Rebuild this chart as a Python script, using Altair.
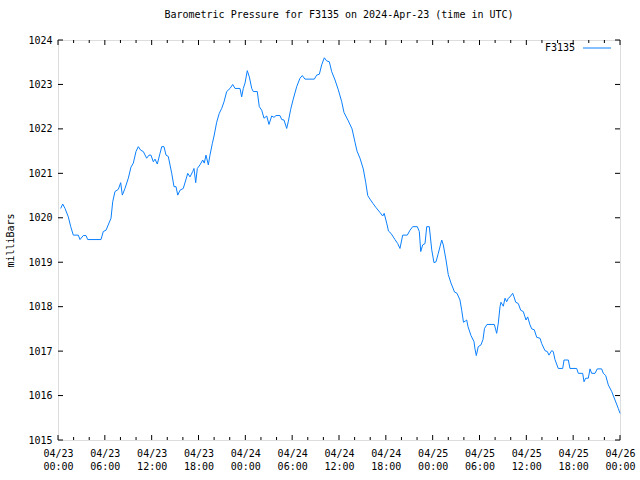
import json
import altair as alt
import pandas as pd

# ---- data (hours since 2024-04-23 00:00 UTC, pressure in mbar) ----
hours = [0.35, 0.60, 0.90, 1.32, 1.63, 1.96, 2.60, 2.82, 3.24, 3.59, 3.80, 5.51, 5.80, 6.15,
         6.79, 7.01, 7.30, 7.73, 8.03, 8.24, 8.58, 9.01, 9.35, 9.65, 9.99, 10.29, 10.60, 10.93,
         11.36, 11.66, 11.91, 12.21, 12.43, 12.72, 13.07, 13.29, 13.58, 13.84, 14.13, 14.57,
         14.86, 15.12, 15.34, 15.63, 16.05, 16.49, 16.62, 16.91, 17.26, 17.42, 17.64, 17.85,
         18.19, 18.54, 18.74, 18.96, 19.26, 19.47, 19.77, 19.99, 20.33, 20.66, 20.97, 21.27,
         21.61, 22.04, 22.38, 22.68, 23.32, 23.53, 23.74, 23.96, 24.25, 24.51, 24.82, 25.02,
         25.53, 25.79, 26.10, 26.39, 26.74, 27.03, 27.38, 27.67, 27.93, 28.44, 28.66, 28.95,
         29.30, 29.50, 29.81, 30.14, 30.58, 31.00, 31.30, 31.64, 32.84, 33.14, 33.48, 33.78,
         34.12, 34.42, 34.76, 35.06, 35.49, 35.91, 36.35, 36.64, 37.19, 37.67, 38.05, 38.31,
         38.69, 39.11, 39.42, 39.68, 39.97, 40.36, 40.74, 41.25, 41.60, 41.79, 42.11, 42.34,
         42.66, 43.17, 43.52, 43.81, 44.16, 44.75, 45.10, 45.44, 46.03, 46.29, 46.47, 46.72,
         47.02, 47.24, 47.57, 47.88, 48.17, 48.43, 48.72, 48.94, 49.16, 49.36, 49.71, 50.00,
         50.35, 50.80, 51.12, 51.50, 51.72, 51.95, 52.21, 52.36, 52.53, 52.91, 53.30, 53.42,
         53.59, 53.84, 54.19, 54.45, 54.64, 54.96, 55.90, 56.20, 56.41, 56.63, 56.75, 57.05,
         57.27, 57.48, 57.69, 57.91, 58.25, 58.42, 58.64, 58.97, 59.28, 59.61, 59.83, 59.96,
         60.17, 60.47, 60.69, 61.02, 61.33, 61.75, 61.97, 62.39, 62.69, 62.90, 63.25, 63.45,
         63.67, 64.09, 64.66, 64.83, 65.38, 65.59, 66.45, 66.66, 67.22, 67.39, 67.60, 67.94,
         68.16, 68.37, 68.80, 69.09, 69.65, 69.86, 70.17, 70.50, 70.94, 71.36, 71.78, 72.00]

pressure = [1020.21, 1020.31, 1020.21, 1020.02, 1019.80, 1019.61, 1019.61, 1019.51, 1019.60,
            1019.60, 1019.51, 1019.51, 1019.69, 1019.72, 1019.99, 1020.36, 1020.59, 1020.64,
            1020.79, 1020.51, 1020.66, 1020.89, 1021.14, 1021.23, 1021.49, 1021.60, 1021.52,
            1021.49, 1021.34, 1021.41, 1021.41, 1021.26, 1021.32, 1021.21, 1021.45, 1021.60,
            1021.60, 1021.41, 1021.38, 1021.00, 1020.70, 1020.70, 1020.51, 1020.62, 1020.66,
            1020.92, 1021.00, 1020.92, 1021.04, 1021.11, 1020.79, 1021.11, 1021.19, 1021.30,
            1021.23, 1021.41, 1021.19, 1021.41, 1021.67, 1021.84, 1022.15, 1022.35, 1022.46,
            1022.61, 1022.84, 1022.91, 1023.00, 1022.91, 1022.91, 1022.72, 1022.91, 1023.03,
            1023.31, 1023.17, 1022.91, 1022.84, 1022.84, 1022.50, 1022.42, 1022.24, 1022.29,
            1022.10, 1022.29, 1022.26, 1022.30, 1022.30, 1022.21, 1022.20, 1022.01, 1022.16,
            1022.44, 1022.67, 1022.95, 1023.14, 1023.20, 1023.12, 1023.12, 1023.21, 1023.23,
            1023.44, 1023.60, 1023.53, 1023.51, 1023.29, 1023.10, 1022.88, 1022.61, 1022.37,
            1022.18, 1022.00, 1021.70, 1021.50, 1021.34, 1021.10, 1020.80, 1020.50, 1020.42,
            1020.32, 1020.23, 1020.12, 1020.04, 1020.10, 1019.88, 1019.70, 1019.65, 1019.51,
            1019.42, 1019.31, 1019.61, 1019.61, 1019.72, 1019.80, 1019.80, 1019.69, 1019.24,
            1019.39, 1019.42, 1019.80, 1019.80, 1019.28, 1018.99, 1019.01, 1019.20, 1019.35,
            1019.50, 1019.39, 1019.05, 1018.72, 1018.53, 1018.33, 1018.30, 1018.15, 1017.92,
            1017.65, 1017.68, 1017.70, 1017.55, 1017.35, 1017.21, 1017.05, 1016.90, 1017.10,
            1017.14, 1017.26, 1017.51, 1017.60, 1017.60, 1017.40, 1017.63, 1018.00, 1018.10,
            1018.01, 1018.19, 1018.11, 1018.19, 1018.22, 1018.30, 1018.22, 1018.10, 1018.07,
            1017.92, 1017.89, 1017.77, 1017.70, 1017.77, 1017.59, 1017.50, 1017.48, 1017.31,
            1017.29, 1017.17, 1017.01, 1016.99, 1016.91, 1017.01, 1016.99, 1016.81, 1016.61,
            1016.61, 1016.80, 1016.80, 1016.61, 1016.61, 1016.50, 1016.50, 1016.31, 1016.39,
            1016.39, 1016.60, 1016.50, 1016.50, 1016.60, 1016.60, 1016.50, 1016.45, 1016.24,
            1016.09, 1015.90, 1015.71, 1015.60]

series_name = "F3135"
title_text = "Barometric Pressure for F3135 on 2024-Apr-23 (time in UTC)"
y_title = "milliBars"
date_labels = ["04/23", "04/24", "04/25", "04/26"]
time_labels = ["00:00", "06:00", "12:00", "18:00"]
x_major = [0, 6, 12, 18, 24, 30, 36, 42, 48, 54, 60, 66, 72]
x_minor = [2, 4, 8, 10, 14, 16, 20, 22, 26, 28, 32, 34, 38, 40, 44, 46, 50, 52, 56, 58, 62, 64, 68, 70]
y_major = [1015, 1016, 1017, 1018, 1019, 1020, 1021, 1022, 1023, 1024]

# ---- style ----
FONT = "DejaVu Sans Mono"
LINE_COLOR = "#0a80ff"
W, H = 562, 400
X_DOM = [0, 72]
Y_DOM = [1015, 1024]
MAJ_PX, MIN_PX = 5, 3
dx = (X_DOM[1] - X_DOM[0]) / W
dy = (Y_DOM[1] - Y_DOM[0]) / H

df = pd.DataFrame({"h": hours, "p": pressure, "s": series_name})

# inward tick marks (gnuplot style), drawn through the scales
rows = []
for v in x_major:
    rows.append({"x": v, "x2": v, "y": Y_DOM[0], "y2": Y_DOM[0] + MAJ_PX * dy})
    rows.append({"x": v, "x2": v, "y": Y_DOM[1], "y2": Y_DOM[1] - MAJ_PX * dy})
for v in x_minor:
    rows.append({"x": v, "x2": v, "y": Y_DOM[0], "y2": Y_DOM[0] + MIN_PX * dy})
    rows.append({"x": v, "x2": v, "y": Y_DOM[1], "y2": Y_DOM[1] - MIN_PX * dy})
for v in y_major:
    rows.append({"x": X_DOM[0], "x2": X_DOM[0] + MAJ_PX * dx, "y": v, "y2": v})
    rows.append({"x": X_DOM[1], "x2": X_DOM[1] - MAJ_PX * dx, "y": v, "y2": v})
ticks_df = pd.DataFrame(rows)

x_scale = alt.Scale(domain=X_DOM, nice=False, zero=False)
y_scale = alt.Scale(domain=Y_DOM, nice=False, zero=False)

label_expr = ("[" + json.dumps(date_labels).replace('"', "'") + "[floor(datum.value/24)], "
              + json.dumps(time_labels).replace('"', "'") + "[floor((datum.value%24)/6)]]")

x_axis = alt.Axis(values=x_major, labelExpr=label_expr, ticks=False, domain=False,
                  grid=False, title=None, labelFont=FONT, labelFontSize=10,
                  labelColor="black", labelPadding=8, labelLineHeight=13,
                  labelFlush=False, labelOverlap=False)
y_axis = alt.Axis(values=y_major, format="d", ticks=False, domain=False, grid=False,
                  title=y_title, titleFont=FONT, titleFontSize=10,
                  titleFontWeight="normal", titleColor="black", titlePadding=12,
                  labelFont=FONT, labelFontSize=10, labelColor="black",
                  labelPadding=6, labelFlush=False)

# legend: label first, then a short line sample to its right (custom symbol path)
legend = alt.Legend(title=None, orient="none", legendX=477, legendY=3,
                    symbolType="M10.75,0H17.75", symbolSize=64,
                    symbolStrokeWidth=1, labelOffset=0,
                    labelFont=FONT, labelFontSize=10,
                    labelColor="black", padding=0)

line = alt.Chart(df).mark_line(strokeWidth=1, interpolate="linear").encode(
    x=alt.X("h:Q", scale=x_scale, axis=x_axis),
    y=alt.Y("p:Q", scale=y_scale, axis=y_axis),
    color=alt.Color("s:N", scale=alt.Scale(range=[LINE_COLOR]), legend=legend),
)

ticks = alt.Chart(ticks_df).mark_rule(color="black", strokeWidth=1).encode(
    x=alt.X("x:Q", scale=x_scale, axis=x_axis),
    x2="x2:Q",
    y=alt.Y("y:Q", scale=y_scale, axis=y_axis),
    y2="y2:Q",
)

chart = alt.layer(line, ticks).properties(
    width=W, height=H,
    padding={"left": 58, "right": 20, "top": 40, "bottom": 40},
    autosize=alt.AutoSizeParams(type="none"),
    title=alt.TitleParams(title_text, font=FONT, fontSize=10, fontWeight="normal",
                          color="black", anchor="middle", offset=15),
).configure_view(stroke="black", strokeWidth=1).configure(background="white")

chart.save("out.html", embed_options={"renderer": "svg", "actions": False})
